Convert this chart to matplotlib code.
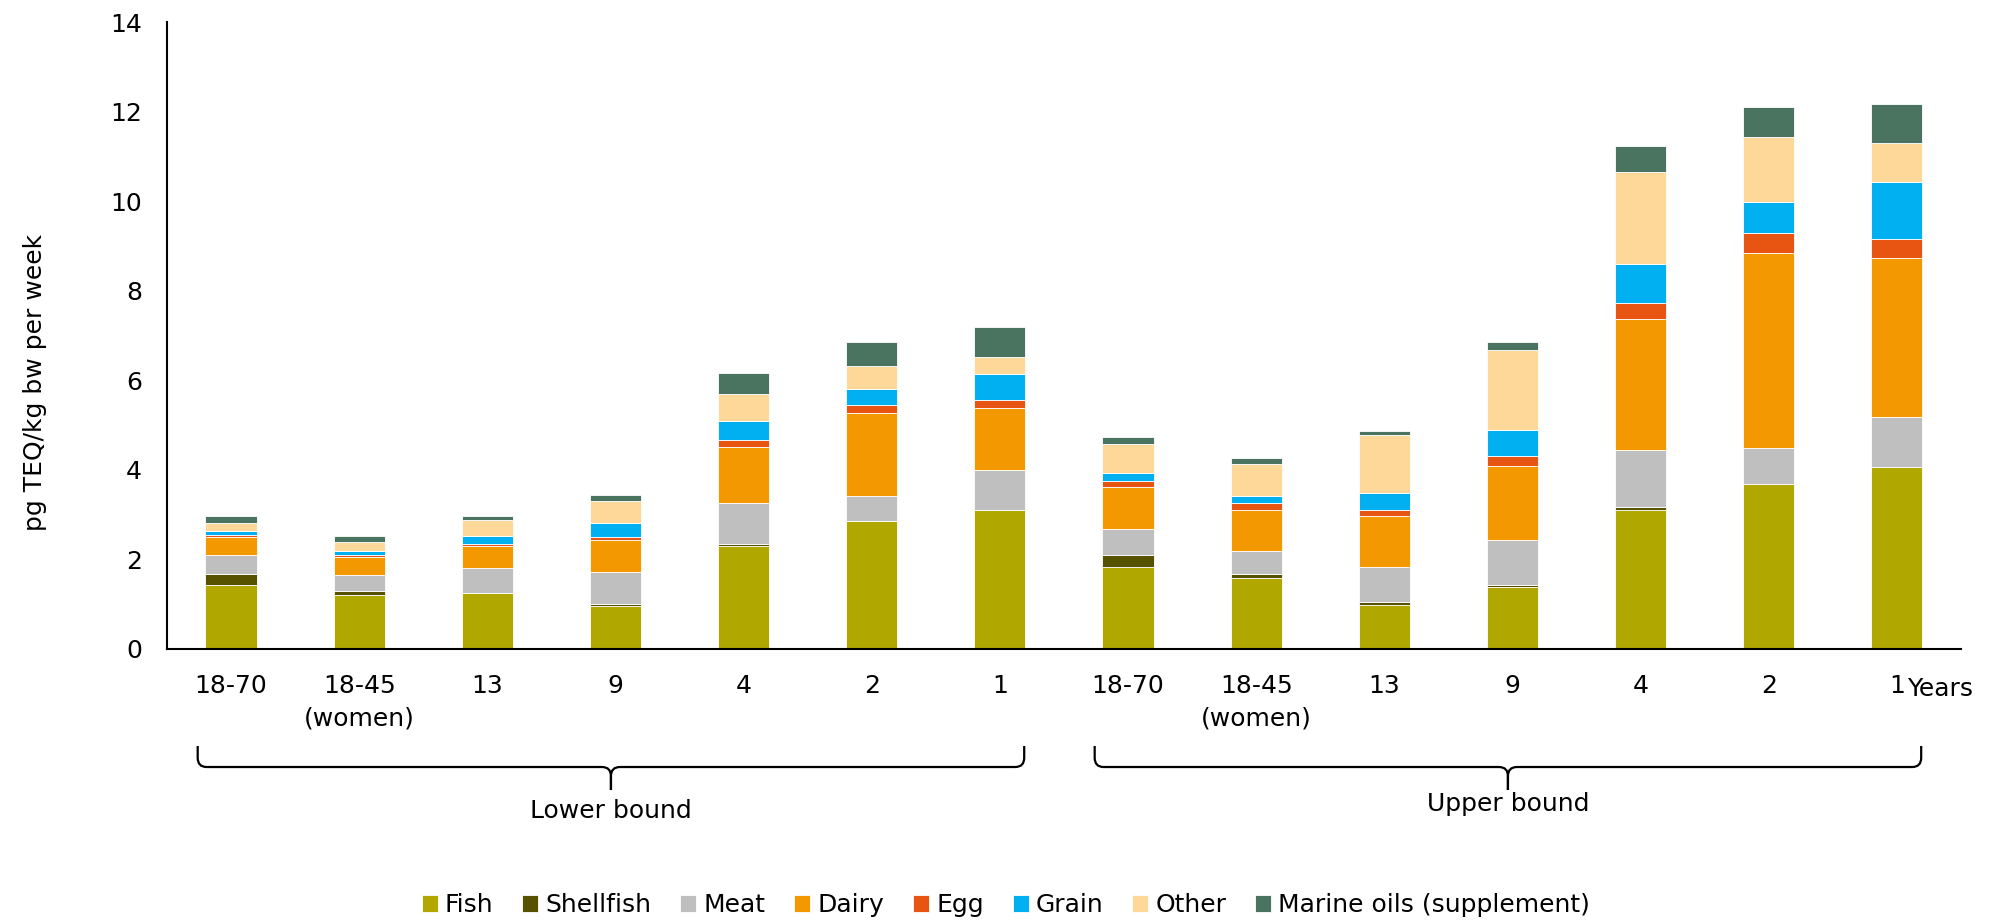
#!/usr/bin/env python3
"""Weekly dioxin intake by food group, lower and upper bound, stacked bars."""

import matplotlib.pyplot as plt
from matplotlib.path import Path
from matplotlib.patches import PathPatch
from matplotlib.transforms import blended_transform_factory

# Age groups (lower bound first, then upper bound)
age_labels = ['18-70', '18-45\n(women)', '13', '9', '4', '2', '1',
              '18-70', '18-45\n(women)', '13', '9', '4', '2', '1']

# pg TEQ/kg bw per week by food group
fish = [1.43, 1.21, 1.24, 0.97, 2.29, 2.85, 3.11, 1.84, 1.59, 0.98, 1.39, 3.10, 3.68, 4.06]
shellfish = [0.25, 0.08, 0.00, 0.04, 0.06, 0.00, 0.00, 0.25, 0.09, 0.06, 0.04, 0.08, 0.00, 0.00]
meat = [0.41, 0.36, 0.57, 0.71, 0.91, 0.57, 0.88, 0.58, 0.51, 0.79, 1.00, 1.26, 0.80, 1.11]
dairy = [0.41, 0.41, 0.48, 0.72, 1.26, 1.86, 1.39, 0.94, 0.92, 1.14, 1.66, 2.93, 4.37, 3.56]
egg = [0.05, 0.04, 0.05, 0.07, 0.14, 0.17, 0.18, 0.15, 0.15, 0.13, 0.22, 0.35, 0.43, 0.42]
grain = [0.08, 0.09, 0.19, 0.30, 0.42, 0.35, 0.59, 0.17, 0.15, 0.38, 0.59, 0.88, 0.70, 1.28]
other = [0.19, 0.20, 0.36, 0.49, 0.61, 0.53, 0.37, 0.64, 0.71, 1.29, 1.78, 2.06, 1.45, 0.87]
marine_oils = [0.15, 0.14, 0.07, 0.14, 0.47, 0.53, 0.67, 0.17, 0.15, 0.10, 0.18, 0.57, 0.67, 0.86]

series_names = ['Fish', 'Shellfish', 'Meat', 'Dairy', 'Egg', 'Grain', 'Other',
                'Marine oils (supplement)']
series_colors = ['#B0A800', '#575200', '#BFBFBF', '#F49800', '#E85412', '#00B0F0',
                 '#FED898', '#4A7460']

# Bracket groups: (label, first bar, last bar)
groups = [('Lower bound', 0, 6), ('Upper bound', 7, 13)]

plt.rcParams['font.family'] = 'DejaVu Sans'
plt.rcParams['font.size'] = 18


def draw_brace(ax, trans, x0, x1, xm, ytop, ymid, ytip, rx=0.07, ry=0.01):
    """Draw a bottom curly brace from x0 to x1 with its tip at xm."""
    codes = [Path.MOVETO, Path.LINETO, Path.CURVE3, Path.CURVE3, Path.LINETO,
             Path.CURVE3, Path.CURVE3, Path.LINETO]
    for xe, sign in ((x0, 1), (x1, -1)):
        verts = [(xe, ytop), (xe, ymid + ry), (xe, ymid), (xe + sign * rx, ymid),
                 (xm - sign * rx, ymid), (xm, ymid), (xm, ymid - ry), (xm, ytip)]
        patch = PathPatch(Path(verts, codes), facecolor='none', edgecolor='black',
                          linewidth=1.6, transform=trans, clip_on=False)
        ax.add_patch(patch)


fig = plt.figure(figsize=(20.04, 9.22), dpi=100)
ax = fig.add_axes([0.0833, 0.2961, 0.8952, 0.68])

series = [fish, shellfish, meat, dairy, egg, grain, other, marine_oils]
x = list(range(len(age_labels)))
bottom = [0.0] * len(x)
handles = []
for name, values, color in zip(series_names, series, series_colors):
    bars = ax.bar(x, values, width=0.4, bottom=bottom, color=color,
                  edgecolor='white', linewidth=0.6, label=name)
    handles.append(bars)
    bottom = [b + v for b, v in zip(bottom, values)]

ax.set_xlim(-0.5, 13.5)
ax.set_ylim(0, 14)
ax.set_yticks(range(0, 15, 2))
ax.set_xticks(x)
ax.set_xticklabels(age_labels, linespacing=1.45)
ax.tick_params(axis='both', length=0, pad=18, labelsize=18)

for side in ['top', 'right']:
    ax.spines[side].set_visible(False)
for side in ['left', 'bottom']:
    ax.spines[side].set_linewidth(1.5)
    ax.spines[side].set_color('black')

# Axis titles
fig.text(0.0175, 0.585, 'pg TEQ/kg bw per week', rotation=90,
         ha='center', va='center', fontsize=18)
trans = blended_transform_factory(ax.transData, fig.transFigure)
ax.text(13.08, 0.2527, 'Years', transform=trans, ha='left', va='center', fontsize=18)

# Group braces below the age labels
brace_label_y = [0.1204, 0.128]
for (label, first, last), ly in zip(groups, brace_label_y):
    x0 = first - 0.26
    x1 = last + 0.19
    xm = (x0 + x1) / 2
    draw_brace(ax, trans, x0, x1, xm, ytop=0.1909, ymid=0.1681, ytip=0.1432)
    ax.text(xm, ly, label, transform=trans, ha='center', va='center', fontsize=18)

fig.legend(handles, series_names, loc='center', bbox_to_anchor=(0.502, 0.018),
           ncol=8, frameon=False, fontsize=18, handlelength=0.64, handleheight=0.7,
           handletextpad=0.28, columnspacing=1.16)

plt.savefig('out.png', dpi=100)
plt.close()
